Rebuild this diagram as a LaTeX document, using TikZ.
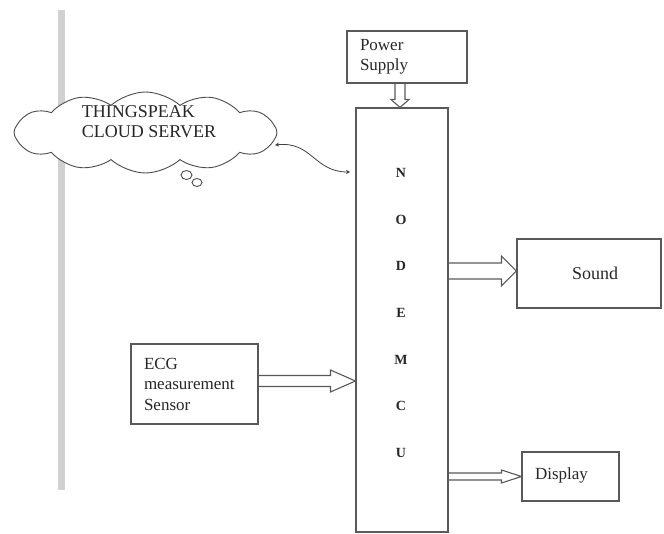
\documentclass[tikz,border=0pt]{standalone}
\usepackage{fontspec}
\setmainfont{Liberation Serif}
\usetikzlibrary{shapes.symbols,arrows.meta,calc}
\newcommand\hollowH[5]{\draw[hollow] let \p1=(#1), \p2=(#2) in (\x1,\y1+#3pt) -- (\x2-#5pt,\y1+#3pt) -- (\x2-#5pt,\y1+#4pt) -- (\x2,\y1) -- (\x2-#5pt,\y1-#4pt) -- (\x2-#5pt,\y1-#3pt) -- (\x1,\y1-#3pt);}
\newcommand\hollowV[5]{\draw[hollow] let \p1=(#1), \p2=(#2) in (\x1+#3pt,\y1) -- (\x1+#3pt,\y2+#5pt) -- (\x1+#4pt,\y2+#5pt) -- (\x1,\y2) -- (\x1-#4pt,\y2+#5pt) -- (\x1-#3pt,\y2+#5pt) -- (\x1-#3pt,\y1);}
\begin{document}
\begin{tikzpicture}[x=1pt,y=-1pt,
  box/.style={draw=black!65, line width=1.1pt, inner sep=0pt, text=black!85, font=\fontsize{17}{20.5}\selectfont},
  hollow/.style={draw=black!65, line width=1.1pt, line join=miter},
  lbl/.style={inner sep=0pt, text=black!85, font=\fontsize{17}{20.5}\selectfont}]
\useasboundingbox (0,0) rectangle (664,534);
% gray bar
\fill[black!18] (58,10) rectangle (65,490);
% cloud
\node[cloud, draw=black!70, fill=white, line width=0.9pt, cloud puffs=12, cloud puff arc=85, aspect=3.2,
  minimum width=263pt, minimum height=81pt, inner sep=0pt] (cloud) at (145.5,132.5) {};
\node[lbl, align=left, font=\fontsize{18}{20}\selectfont] (cloudtext) at (149,122) {THINGSPEAK\\CLOUD SERVER};
\draw[black!70, line width=0.9pt] (186.5,175) ellipse (5.5 and 4.5);
\draw[black!70, line width=0.9pt] (197,182.5) ellipse (5 and 4);
% boxes
\node[box, minimum width=120pt, minimum height=52pt, text width=94pt, align=left] (ps) at (407,57) {Power\\Supply};
\node[box, minimum width=92pt, minimum height=424pt] (nm) at (402,320) {};
\node[lbl, align=center, font=\fontsize{14}{46.67}\selectfont\bfseries] (nmtext) at (401,313) {N\\O\\D\\E\\M\\C\\U};
\node[box, minimum width=144pt, minimum height=69pt, font=\fontsize{18}{20}\selectfont] (sound) at (589,273.5) {\hspace*{12pt}Sound};
\node[box, minimum width=127pt, minimum height=80pt, text width=101pt, align=left] (ecg) at (194.5,384) {ECG\\measurement\\Sensor};
\node[box, minimum width=97pt, minimum height=49pt, text width=71pt, align=left] (disp) at (570.5,476.5) {\raisebox{6.5pt}{Display}};
% hollow arrows
\hollowV{$(ps.south)+(-7,0)$}{nm.north}{5}{9}{8}
\hollowH{$(ecg.east)+(0,-3)$}{nm.west}{5.5}{11}{25}
\hollowH{$(nm.east |- sound.west)+(0,-2.5)$}{sound.west}{8}{15}{15}
\hollowH{nm.east |- disp.west}{disp.west}{3.5}{6.5}{20}
% curvy connector
\coordinate (ce) at (275,145);
\coordinate (me) at (350,172);
\draw[black!75, line width=0.8pt, {Stealth[length=4pt,width=4pt]}-{Stealth[length=4pt,width=4pt]}] (ce) .. controls (312,141) and (314,172) .. (me);
\end{tikzpicture}
\end{document}
